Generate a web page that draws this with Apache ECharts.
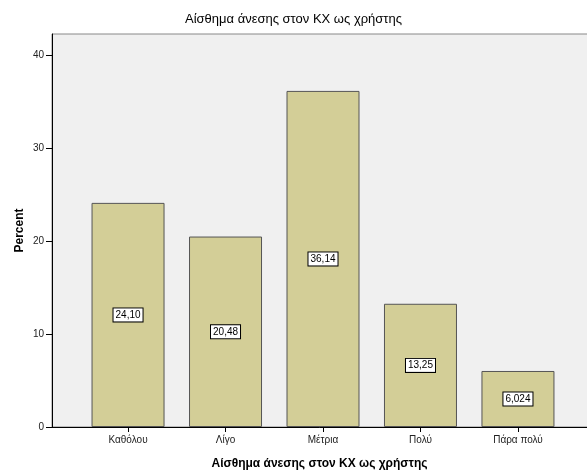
<!DOCTYPE html>
<html>
<head>
<meta charset="utf-8">
<script src="https://cdn.jsdelivr.net/npm/echarts@6/dist/echarts.min.js"></script>
<style>html,body{margin:0;padding:0;background:#fff;}#c{width:587px;height:475px;}</style>
</head>
<body>
<div id="c"></div>
<script>
const categories = ['Καθόλου', 'Λίγο', 'Μέτρια', 'Πολύ', 'Πάρα πολύ'];
const values = [24.10, 20.48, 36.14, 13.25, 6.024];
const valueLabels = ['24,10', '20,48', '36,14', '13,25', '6,024'];
const yTicks = [0, 10, 20, 30, 40];

const chart = echarts.init(document.getElementById('c'));
const font = '"Liberation Sans", Arial, sans-serif';
chart.setOption({
  animation: false,
  backgroundColor: '#ffffff',
  title: {
    text: 'Αίσθημα άνεσης στον ΚΧ ως χρήστης',
    left: 'center', top: 8,
    textStyle: { fontFamily: font, fontSize: 13, fontWeight: 'normal', color: '#000' }
  },
  grid: {
    left: 52, right: -7, top: 34, bottom: 48,
    outerBoundsMode: 'none', containLabel: false,
    show: true, backgroundColor: '#f0f0f0', borderColor: '#888', borderWidth: 1
  },
  xAxis: {
    type: 'value',
    min: -0.78, max: 4.78,
    name: 'Αίσθημα άνεσης στον ΚΧ ως χρήστης',
    nameLocation: 'middle', nameGap: 31,
    nameTextStyle: { fontFamily: font, fontSize: 12, fontWeight: 'bold', color: '#000', padding: [0, 7, 0, 0] },
    axisLine: { show: true, onZero: false, lineStyle: { color: '#000', width: 1 } },
    axisTick: { show: true, length: 5, lineStyle: { color: '#000' }, customValues: [0, 1, 2, 3, 4] },
    axisLabel: {
      customValues: [0, 1, 2, 3, 4],
      fontFamily: font, fontSize: 10, color: '#222', margin: 8,
      formatter: v => categories[Math.round(v)]
    },
    splitLine: { show: false }
  },
  yAxis: {
    type: 'value',
    min: 0, max: 42.26, interval: 10,
    name: 'Percent', nameLocation: 'middle', nameGap: 26, nameMoveOverlap: false,
    nameTextStyle: { fontFamily: font, fontSize: 12, fontWeight: 'bold', color: '#000' },
    axisLine: { show: true, onZero: false, lineStyle: { color: '#000', width: 1 } },
    axisTick: { show: true, length: 6, lineStyle: { color: '#000' }, customValues: yTicks },
    axisLabel: {
      customValues: yTicks,
      fontFamily: font, fontSize: 10, color: '#222', margin: 8
    },
    splitLine: { show: false }
  },
  series: [{
    type: 'bar',
    barWidth: 73,
    data: values.map((v, i) => [i, v]),
    itemStyle: { color: '#d3ce97', borderColor: '#555', borderWidth: 1 },
    label: {
      show: true, position: 'inside',
      formatter: p => valueLabels[p.dataIndex],
      fontFamily: font, fontSize: 10, color: '#000',
      backgroundColor: '#fff', borderColor: '#000', borderWidth: 1,
      padding: [2, 2, 1, 2]
    }
  }]
});
</script>
</body>
</html>
